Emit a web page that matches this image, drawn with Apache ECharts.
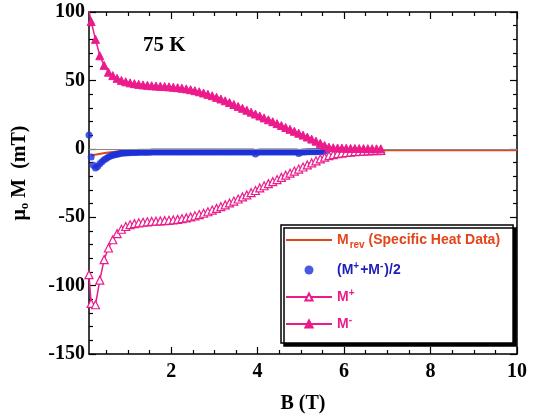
<!DOCTYPE html>
<html>
<head>
<meta charset="utf-8">
<script src="https://cdn.jsdelivr.net/npm/echarts@6/dist/echarts.min.js"></script>
<style>html,body{margin:0;padding:0;background:#fff;}#c{width:539px;height:419px;}</style>
</head>
<body>
<div id="c"></div>
<script>
// ---- data ----
const fieldB = [0.10,0.15,0.25,0.35,0.45,0.55,0.65,0.75,0.85,0.95,1.05,1.15,1.25,1.35,1.45,1.55,1.65,1.75,1.85,1.95,2.05,2.15,2.25,2.35,2.45,2.55,2.65,2.75,2.85,2.95,3.05,3.15,3.25,3.35,3.45,3.55,3.65,3.75,3.85,3.95,4.05,4.15,4.25,4.35,4.45,4.55,4.65,4.75,4.85,4.95,5.05,5.15,5.25,5.35,5.45,5.55,5.65,5.75,5.85,5.95,6.05,6.15,6.25,6.35,6.45,6.55,6.65,6.75,6.85];
const mMinus = [101,93,80,68,61,56,53.5,51.5,50,49,48.2,47.6,47.1,46.7,46.4,46.1,45.9,45.7,45.5,45.3,45.0,44.7,44.3,43.8,43.2,42.5,41.7,40.8,39.8,38.8,37.6,36.4,35.1,33.8,32.4,31.0,29.6,28.2,26.8,25.4,24.0,22.6,21.2,19.8,18.4,17.0,15.6,14.2,12.8,11.4,10.0,8.6,7.1,5.6,4.0,2.4,1.2,0.8,0.6,0.5,0.4,0.3,0.25,0.2,0.15,0.1,0.05,0.0,0.0];
const mPlus = [-92,-113,-114,-96,-81,-72.5,-66.5,-62,-58.8,-56.8,-55.5,-54.7,-54.1,-53.7,-53.4,-53.1,-52.9,-52.7,-52.5,-52.3,-52.0,-51.6,-51.1,-50.5,-49.8,-49.0,-48.1,-47.1,-46.0,-44.8,-43.6,-42.3,-41.0,-39.6,-38.2,-36.7,-35.2,-33.7,-32.1,-30.5,-28.6,-27.0,-25.5,-24.0,-22.5,-20.9,-19.3,-17.8,-16.3,-14.8,-13.3,-11.8,-10.3,-8.8,-7.4,-6.1,-5.0,-4.2,-3.6,-3.1,-2.7,-2.4,-2.1,-1.9,-1.7,-1.5,-1.4,-1.3,-1.2];
const avgB = [0.10,0.15,0.20,0.25,0.30,0.35,0.40,0.45,0.50,0.55,0.60,0.65,0.70,0.75,0.80,0.85,0.90,0.95,1.00,1.05,1.10,1.15,1.20,1.25,1.30,1.35,1.40,1.45,1.50,1.55,1.60,1.65,1.70,1.75,1.80,1.85,1.90,1.95,2.00,2.05,2.10,2.15,2.20,2.25,2.30,2.35,2.40,2.45,2.50,2.55,2.60,2.65,2.70,2.75,2.80,2.85,2.90,2.95,3.00,3.05,3.10,3.15,3.20,3.25,3.30,3.35,3.40,3.45,3.50,3.55,3.60,3.65,3.70,3.75,3.80,3.85,3.90,3.95,4.00,4.05,4.10,4.15,4.20,4.25,4.30,4.35,4.40,4.45,4.50,4.55,4.60,4.65,4.70,4.75,4.80,4.85,4.90,4.95,5.00,5.05,5.10,5.15,5.20,5.25,5.30,5.35,5.40,5.45,5.50,5.55];
const avgVal = [10,-6,-12,-14,-13,-11,-9.5,-8,-7,-6,-5.3,-4.8,-4.3,-3.9,-3.6,-3.3,-3.1,-3.0,-2.9,-2.8,-2.75,-2.7,-2.65,-2.6,-2.55,-2.5,-2.5,-2.5,-2.45,-2.4,-2.4,-2.4,-2.4,-2.4,-2.35,-2.3,-2.3,-2.3,-2.3,-2.3,-2.3,-2.3,-2.3,-2.3,-2.3,-2.3,-2.3,-2.3,-2.3,-2.3,-2.3,-2.3,-2.3,-2.3,-2.3,-2.3,-2.3,-2.3,-2.3,-2.3,-2.3,-2.3,-2.3,-2.3,-2.3,-2.3,-2.3,-2.3,-2.3,-2.3,-2.3,-2.3,-2.3,-2.3,-2.3,-2.3,-2.4,-3.8,-2.6,-2.4,-2.3,-2.3,-2.3,-2.3,-2.3,-2.3,-2.3,-2.3,-2.3,-2.3,-2.3,-2.3,-2.3,-2.3,-2.3,-2.3,-2.4,-3.4,-2.5,-2.3,-2.3,-2.2,-2.2,-2.2,-2.1,-2.1,-2.0,-2.0,-1.9,-1.8];
const mrevB = [0.15,0.2,0.3,0.4,0.5,0.6,0.75,1.0,1.5,2,3,4,5,6,7,8,9,10];
const mrevVal = [-5,-4.6,-4,-3.4,-2.9,-2.5,-2,-1.6,-1.3,-1.2,-1.1,-1.1,-1.1,-1.1,-1.1,-1.1,-1.1,-1.1];
const xMajorTicks = [2,4,6,8,10];
const xMinorTicks = [0.5,1,1.5,2.5,3,3.5,4.5,5,5.5,6.5,7,7.5,8.5,9,9.5];
const yTickLabels = [-150,-100,-50,0,50,100];
const seriesNames = ['Mrev','avg','Mplus','Mminus'];

const zip = (xs, ys) => xs.map((x, i) => [x, ys[i]]);

const PINK = '#ec1b8c', BLUE = '#1c30d8', ORANGE = '#e2461a';
const SERIF = '"Liberation Serif", "Times New Roman", serif';
const SANS = '"Liberation Sans", Arial, sans-serif';

const chart = echarts.init(document.getElementById('c'), null, {renderer: 'canvas'});

const axisLineStyle = {color: '#000', width: 1.5};
function xAxisDef(pos, ticks, len, withLabel, withLine) {
  return {
    type: 'value', min: 0.1, max: 10, position: pos,
    axisLine: {show: withLine, onZero: false, lineStyle: axisLineStyle},
    axisTick: {show: true, inside: true, length: len, customValues: ticks, lineStyle: {color: '#000', width: 1.2}},
    axisLabel: withLabel ? {show: true, customValues: xMajorTicks, color: '#000', fontFamily: SERIF, fontWeight: 'bold', fontSize: 20, margin: 8} : {show: false},
    splitLine: {show: false}
  };
}
function yAxisDef(pos, withLabel) {
  return {
    type: 'value', min: -150, max: 100, interval: 50, position: pos,
    axisLine: {show: true, onZero: false, lineStyle: axisLineStyle},
    axisTick: {show: true, inside: true, length: 7, lineStyle: {color: '#000', width: 1.2}},
    minorTick: {show: true, splitNumber: 5, length: 4, lineStyle: {color: '#000', width: 1.2}},
    axisLabel: withLabel ? {show: true, color: '#000', fontFamily: SERIF, fontWeight: 'bold', fontSize: 20, margin: 4,
      formatter: v => yTickLabels.indexOf(v) >= 0 ? String(v) : ''} : {show: false},
    splitLine: {show: false}, minorSplitLine: {show: false}
  };
}

const yAxes = [yAxisDef('left', true), yAxisDef('right', false)];
yAxes[0].name = '{m|μ}{o|o}{m| M  (mT)}';
yAxes[0].nameLocation = 'middle';
yAxes[0].nameRotate = 90;
yAxes[0].nameGap = 58;
yAxes[0].nameTextStyle = {
  padding: [0, 0, 0, 20],
  rich: {
    m: {fontFamily: SERIF, fontWeight: 'bold', fontSize: 20, color: '#000'},
    o: {fontFamily: SERIF, fontWeight: 'bold', fontSize: 13, color: '#000', padding: [10, 0, 0, 0]}
  }
};

const xAxes = [
  xAxisDef('bottom', xMajorTicks, 7, true, true),
  xAxisDef('bottom', xMinorTicks, 4, false, false),
  xAxisDef('top', xMajorTicks, 7, false, true),
  xAxisDef('top', xMinorTicks, 4, false, false)
];
xAxes[0].name = 'B (T)';
xAxes[0].nameLocation = 'middle';
xAxes[0].nameGap = 40;
xAxes[0].nameTextStyle = {fontFamily: SERIF, fontWeight: 'bold', fontSize: 20, color: '#000'};

const legendText = {
  Mrev: '{oM|M}{oS|rev}{oM| (Specific Heat Data)}',
  avg: '{bM|(M}{bS|+}{bM|+M}{bS|-}{bM|)/2}',
  Mplus: '{pM|M}{pS|+}',
  Mminus: '{pM|M}{pS|-}'
};
const mk = (c) => ({fontFamily: SANS, fontWeight: 'bold', fontSize: 14, color: c});
const sub = (c) => ({fontFamily: SANS, fontWeight: 'bold', fontSize: 10, color: c, padding: [10, 0, 0, 1]});
const sup = (c) => ({fontFamily: SANS, fontWeight: 'bold', fontSize: 10, color: c, padding: [0, 1, 8, 0]});

const option = {
  animation: false,
  backgroundColor: '#fff',
  grid: {left: 89, right: 22, top: 12, bottom: 64, containLabel: false},
  title: {text: '75 K', left: 138, top: 30, textStyle: {fontFamily: SERIF, fontWeight: 'bold', fontSize: 21, color: '#000'}},
  xAxis: xAxes,
  yAxis: yAxes,
  legend: {
    orient: 'vertical', left: 281, top: 225,
    padding: [8, 13, 12, 4], itemGap: 11, itemWidth: 46, itemHeight: 9,
    backgroundColor: '#fff', borderColor: '#000', borderWidth: 1.5,
    shadowColor: '#000', shadowBlur: 0, shadowOffsetX: 3, shadowOffsetY: 3,
    selectedMode: false,
    formatter: name => legendText[name],
    textStyle: {
      fontFamily: SANS, fontWeight: 'bold', fontSize: 14,
      rich: {
        oM: mk(ORANGE), oS: sub(ORANGE),
        bM: mk('#1e1eb8'), bS: sup('#1e1eb8'),
        pM: mk(PINK), pS: sup(PINK)
      }
    },
    data: [
      {name: 'Mrev', itemStyle: {color: 'rgba(0,0,0,0)', borderWidth: 0}},
      {name: 'avg'},
      {name: 'Mplus'},
      {name: 'Mminus'}
    ]
  },
  series: [
    {
      name: 'Mrev', type: 'line', xAxisIndex: 0, yAxisIndex: 0, z: 2,
      data: zip(mrevB, mrevVal), showSymbol: false, symbol: 'none',
      lineStyle: {color: ORANGE, width: 2}, itemStyle: {color: ORANGE},
      markLine: {silent: true, symbol: 'none', label: {show: false},
        lineStyle: {color: '#888', width: 1, type: 'solid'}, data: [{yAxis: 0}]}
    },
    {
      name: 'avg', type: 'scatter', xAxisIndex: 0, yAxisIndex: 0, z: 3,
      data: zip(avgB, avgVal), symbol: 'circle', symbolSize: 7,
      itemStyle: {color: BLUE}
    },
    {
      name: 'Mplus', type: 'line', xAxisIndex: 0, yAxisIndex: 0, z: 4,
      data: zip(fieldB, mPlus), symbol: 'triangle', symbolSize: 8, showAllSymbol: true,
      lineStyle: {color: PINK, width: 1.5},
      itemStyle: {color: '#fff', borderColor: PINK, borderWidth: 1.2}
    },
    {
      name: 'Mminus', type: 'line', xAxisIndex: 0, yAxisIndex: 0, z: 5,
      data: zip(fieldB, mMinus), symbol: 'triangle', symbolSize: 8, showAllSymbol: true,
      lineStyle: {color: PINK, width: 1.5},
      itemStyle: {color: PINK, borderColor: PINK, borderWidth: 1}
    }
  ]
};
chart.setOption(option);
</script>
</body>
</html>
